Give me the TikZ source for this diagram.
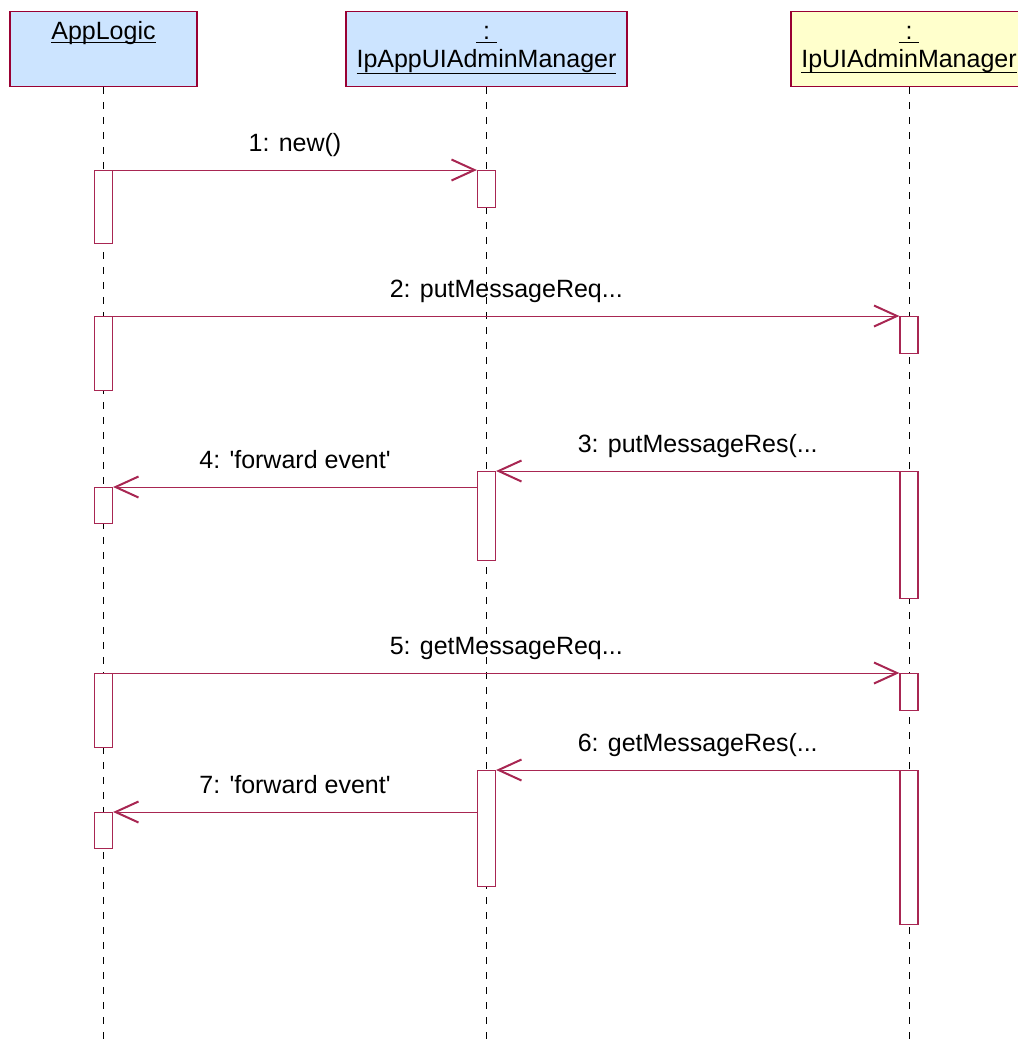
\documentclass[tikz,border=0pt]{standalone}
\usepackage{fontspec}
\setmainfont{Liberation Sans}
\usetikzlibrary{arrows.meta,positioning}
\definecolor{headblue}{RGB}{204,228,255}
\definecolor{headyellow}{RGB}{255,255,204}
\definecolor{umlred}{RGB}{153,0,51}
\newsavebox\ulbox
\newcommand\ulname[2][3pt]{\sbox\ulbox{#2}\rlap{\rule[-#1]{\wd\ulbox}{0.7pt}}\usebox\ulbox}
\begin{document}
\begin{tikzpicture}[x=0.5pt, y=-0.5pt,
		every node/.style = {font=\fontsize{12.5}{15}\selectfont},
		head/.style = {shape=rectangle, draw=umlred, line width=0.6pt,
			anchor=north, minimum height=37.5pt, inner sep=0pt},
		headtext/.style = {anchor=base, inner sep=0pt},
		act/.style = {shape=rectangle, draw=umlred!85, fill=white, line width=0.6pt,
			anchor=north, minimum width=9pt, inner sep=0pt},
		lifeline/.style = {draw=black, line width=0.5pt, dash pattern=on 3.5pt off 4pt},
		msg/.style = {draw=umlred!85, line width=0.5pt,
			-{Straight Barb[length=11.5pt, width=10.5pt, line width=1pt]}},
		msglabel/.style = {midway, anchor=base, yshift=9.5pt, inner sep=0pt}]
	\useasboundingbox (0,0) rectangle (1018,1041);
	\coordinate (bot) at (0,1041);
	% objects
	\node[head, fill=headblue, minimum width=93.5pt] (al) at (103.5,11) {};
	\node[head, fill=headblue, minimum width=140.5pt] (pm) at (486.5,11) {};
	\node[head, fill=headyellow, minimum width=118pt] (um) at (909,11) {};
	\node[headtext] (altxt) at (103.5,39) {\ulname[2pt]{AppLogic}};
	\node[headtext] (pmcol) at (486.5,39) {\ulname[2pt]{\ :\ }};
	\node[headtext] (pmtxt) at (486.5,67) {\ulname[3.5pt]{IpAppUIAdminManager}};
	\node[headtext] (umcol) at (909,39) {\ulname[2pt]{\ :\ }};
	\node[headtext] (umtxt) at (909,67) {\ulname[3pt]{IpUIAdminManager}};
	% lifelines
	\draw[lifeline] (al.south) -- (al.south |- bot);
	\draw[lifeline] (pm.south) -- (pm.south |- bot);
	\draw[lifeline] (um.south) -- (um.south |- bot);
	% activations
	\node[act, minimum height=36.5pt] (a1) at (103.5,170) {};
	\node[act, minimum height=18.5pt] (b1) at (486.5,170) {};
	\node[act, minimum height=37pt] (a2) at (103.5,316) {};
	\node[act, minimum height=18.5pt] (c1) at (909,316) {};
	\node[act, minimum height=44.5pt] (b2) at (486.5,471) {};
	\node[act, minimum height=63.5pt] (c2) at (909,471) {};
	\node[act, minimum height=18pt] (a3) at (103.5,487) {};
	\node[act, minimum height=37pt] (a4) at (103.5,673) {};
	\node[act, minimum height=18.5pt] (c3) at (909,673) {};
	\node[act, minimum height=58pt] (b3) at (486.5,770) {};
	\node[act, minimum height=77pt] (c4) at (909,770) {};
	\node[act, minimum height=18pt] (a5) at (103.5,812) {};
	% messages
	\draw[msg] (a1.north east) -- node[msglabel] (m1) {1: new()} (b1.north west);
	\draw[msg] (a2.north east) -- node[msglabel] (m2) {2: putMessageReq...} (c1.north west);
	\draw[msg] (c2.north west) -- node[msglabel] (m3) {3: putMessageRes(...} (b2.north east);
	\draw[msg] (b2.west |- a3.north) -- node[msglabel] (m4) {4: \textquotesingle forward event\textquotesingle} (a3.north east);
	\draw[msg] (a4.north east) -- node[msglabel] (m5) {5: getMessageReq...} (c3.north west);
	\draw[msg] (c4.north west) -- node[msglabel] (m6) {6: getMessageRes(...} (b3.north east);
	\draw[msg] (b3.west |- a5.north) -- node[msglabel] (m7) {7: \textquotesingle forward event\textquotesingle} (a5.north east);
\end{tikzpicture}
\end{document}
